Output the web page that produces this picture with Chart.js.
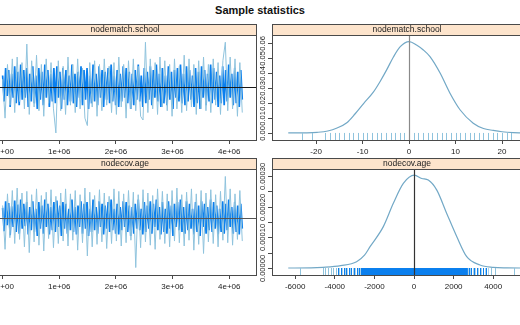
<!DOCTYPE html>
<html>
<head>
<meta charset="utf-8">
<script src="https://cdn.jsdelivr.net/npm/chart.js@4.4.1/dist/chart.umd.min.js"></script>
<style>
  html, body { margin: 0; padding: 0; background: #fff; overflow: hidden; width: 520px; height: 325px; }
  #title { position: absolute; left: 0; top: 4px; width: 520px; text-align: center;
           font: bold 11px "Liberation Sans Narrow", "Liberation Sans", Arial, sans-serif; color: #111; }
  canvas { position: absolute; }
</style>
</head>
<body>
<div id="title">Sample statistics</div>
<canvas id="traceSchool" width="264" height="138" style="left:-7px;top:24px"></canvas>
<canvas id="densSchool" width="286" height="138" style="left:256px;top:24px"></canvas>
<canvas id="traceAge" width="264" height="139" style="left:-7px;top:158px"></canvas>
<canvas id="densAge" width="286" height="139" style="left:256px;top:158px"></canvas>
<script>
// ---- data ----
const statNames = ['nodematch.school', 'nodecov.age'];
const traceEnd = 4.23e6;
const traceTicks = [0, 1e6, 2e6, 3e6, 4e6];
const traceTickLabels = ['0e+00', '1e+06', '2e+06', '3e+06', '4e+06'];

// nodematch.school trace: outer spikes + dense band
const schoolTraceOuter = [4, -17, 12, -10, 15, -14, 16, -8, 13, -12,
  23, -15, 14, -11, 17, -13, 12, -16, 15, -9,
  13, -12, -25, 14, -13, 11, -15, 16, -10, 12,
  -14, 15, -12, 10, -17, -21, 13, -11, 14, -16,
  12, -13, 15, -10, 11, -14, 13, -15, 16, -11,
  12, -17, 14, -12, 15, -13, 11, -16, -18, 24,
  -14, 15, -12, 13, -15, 16, -11, 14, -13, 12,
  -16, 15, -12, 11, -14, 17, -13, 15, -11, 12,
  -15, 14, -12, 16, -13, 12, -14, 15, -10, 13,
  -15, 14, 24, -13, 16, -12, 15, -16, 13, -14];
const schoolTraceInner = [6, -8, 10, -5, 9, -11, 7, -6, 11, -9,
  8, -10, 12, -7, 9, -6, 10, -11, 7, -8,
  11, -9, 6, -12, 10, -7, 8, -10, 12, -6,
  9, -11, 7, -8, 10, -9, 11, -6, 8, -12,
  10, -7, 9, -10, 6, -8, 12, -9, 7, -11,
  8, -6, 11, -10, 9, -7, 10, -12, 6, -9,
  12, -8, 7, -10, 11, -6, 9, -11, 8, -7,
  10, -9, 12, -8, 6, -10, 9, -11, 7, -8,
  11, -6, 10, -9, 8, -12, 7, -10, 9, -7,
  12, -8, 6, -11, 10, -9, 8, -7, 11, -10,
  9, -6, 12, -8, 7, -11, 10, -9, 6, -10,
  11, -7, 8, -12, 9, -6, 10, -8, 12, -9,
  7, -10, 11, -8, 9, -7, 6, -11, 10, -9,
  8, -12, 11, -6, 9, -10, 7, -8, 12, -9,
  10, -7, 8, -11, 6, -9, 11, -10, 9, -8,
  12, -6, 7, -10, 10, -9, 8, -11, 9, -7];

// nodecov.age trace
const ageTraceOuter = [1500, -3800, 2900, -2400, 3300, -3100, 3600, -2600, 3000, -3500,
  3200, -4200, 2800, -2900, 3500, -3300, 2700, -4000, 3100, -2500,
  3400, -3600, 2600, -3100, 3000, -2800, 3500, -3400, 2900, -2700,
  3300, -3900, 2800, -3000, 3600, -4600, 3100, -3500, 2700, -3200,
  3400, -2900, 3000, -3700, 2600, -3100, 3500, -2800, 3200, -3400,
  2900, -3000, 3300, -2700, 3100, -6000, 2800, -3600, 3400, -2900,
  3000, -3300, 2700, -3800, 3500, -2600, 3200, -3100, 2900, -3500,
  3300, -2800, 3600, -3000, 2800, -3400, 3100, -2700, 3500, -3900,
  2900, -3200, 3300, -4300, 3000, -2900, 3400, -3100, 2800, -3500,
  3200, -2700, 5000, -3000, 3500, -3300, 2900, -2600, 3300, -2800];
const ageTraceInner = [1200, -1600, 2000, -900, 1800, -2100, 1400, -1100, 2100, -1700,
  1600, -1900, 2200, -1300, 1700, -1000, 1900, -2000, 1300, -1500,
  2000, -1700, 1100, -2200, 1900, -1300, 1500, -1900, 2200, -1100,
  1700, -2000, 1300, -1500, 1900, -1700, 2100, -1100, 1500, -2200,
  1900, -1300, 1700, -1900, 1100, -1500, 2200, -1700, 1300, -2000,
  1500, -1100, 2000, -1900, 1700, -1300, 1900, -2200, 1100, -1700,
  2200, -1500, 1300, -1900, 2000, -1100, 1700, -2000, 1500, -1300,
  1900, -1700, 2200, -1500, 1100, -1900, 1700, -2000, 1300, -1500,
  2000, -1100, 1900, -1700, 1500, -2200, 1300, -1900, 1700, -1300,
  2200, -1500, 1100, -2000, 1900, -1700, 1500, -1300, 2000, -1900,
  1700, -1100, 2200, -1500, 1300, -2000, 1900, -1700, 1100, -1900,
  2000, -1300, 1500, -2200, 1700, -1100, 1900, -1500, 2200, -1700,
  1300, -1900, 2000, -1500, 1700, -1300, 1100, -2000, 1900, -1700,
  1500, -2200, 2000, -1100, 1700, -1900, 1300, -1500, 2200, -1700,
  1900, -1300, 1500, -2000, 1100, -1700, 2000, -1900, 1700, -1500,
  2200, -1100, 1300, -1900, 1900, -1700, 1500, -2000, 1700, -1300];

// densities
const schoolDensX = [-26, -22, -19.8, -17.5, -15.5, -13.4, -11.6, -9.8, -7.7, -6.2, -4.8, -3.4, -1.9, 0,
  1.6, 3, 4.5, 6.7, 8.8, 11, 13.8, 16, 18.1, 20, 22.4, 25, 28.6];
const schoolDensY = [0, 0.0001, 0.0004, 0.0013, 0.0033, 0.0068, 0.0128, 0.0196, 0.0272, 0.0345, 0.0422, 0.0505, 0.0575, 0.0609,
  0.0587, 0.0555, 0.0509, 0.0398, 0.0265, 0.0153, 0.0065, 0.003, 0.0017, 0.0008, 0.0002, 0, 0];
const schoolRug = [-23, -21, -18, -17, -16, -15, -14, -13, -12, -11, -10, -9, -8, -7, -6, -5, -4, -3, -2, -1,
  1, 2, 3, 4, 5, 6, 7, 8, 9, 10, 11, 12, 13, 14, 15, 16, 17, 18, 19, 20, 21, 22];
const schoolTicks = [-20, -10, 0, 10, 20];
const schoolYTicks = [0, 0.01, 0.02, 0.03, 0.04, 0.05, 0.06];
const schoolYLabels = ['0.00', '0.01', '0.02', '0.03', '0.04', '0.05', '0.06'];

const ageDensX = [-6350, -5200, -4600, -3700, -2900, -2500, -2220, -1550, -1045, -540, 15, 390, 720,
  1150, 1650, 2160, 2660, 3330, 4000, 4700, 5350, 6460];
const ageDensY = [0, 0.0000005, 0.0000023, 0.000008, 0.0000207, 0.000042, 0.0000696, 0.000135, 0.000211, 0.000276, 0.000303, 0.000292, 0.000287,
  0.000254, 0.000178, 0.000102, 0.0000368, 0.0000098, 0.0000023, 0.0000005, 0, 0];
const ageRugSparse = [-5750, -4580, -4470, -4330, -4210, -4080, -3960, 3900, 4100, 5050];
const ageRugStripes = [-3850, -3780, -3700, -3640, -3560, -3500, -3430, -3360, -3300, -3240, -3170, -3100,
  -3040, -2970, -2900, -2840, -2780, -2720, -2660, 2700, 2760, 2830, 2890, 2960, 3030, 3100, 3170, 3250,
  3320, 3400, 3480, 3560, 3650, 3750];
const ageRugBand = [-2650, 2720];
const ageTicks = [-6000, -4000, -2000, 0, 2000, 4000];
const ageYTicks = [0, 0.00005, 0.0001, 0.00015, 0.0002, 0.00025, 0.0003];
const ageYLabels = ['0.00000', '', '0.00010', '', '0.00020', '', '0.00030'];

// ---- styling ----
const FONT = '"Liberation Sans Narrow", "Liberation Sans", Arial, sans-serif';
const darkBlue = '#0a7fee';
const lightBlue = '#8fc3dd';
const densColor = '#72a8c6';
const frameColor = '#4a4a4a';

const toXY = (xs, ys) => xs.map((x, i) => ({ x, y: ys[i] }));
const traceXY = (vals) => vals.map((v, i) => ({ x: i * traceEnd / (vals.length - 1), y: v }));

const panelDeco = {
  id: 'panelDeco',
  afterDatasetsDraw(chart, args, opts) {
    const { ctx, chartArea: a, scales } = chart;
    ctx.save();
    // rug
    const y0 = scales.y.getPixelForValue(0);
    if (opts.band) {
      const x1 = scales.x.getPixelForValue(opts.band[0]);
      const x2 = scales.x.getPixelForValue(opts.band[1]);
      ctx.fillStyle = darkBlue;
      ctx.fillRect(x1, y0, x2 - x1, a.bottom - y0);
    }
    (opts.rugs || []).forEach(r => {
      ctx.strokeStyle = r.color;
      ctx.lineWidth = 1;
      r.values.forEach((v, i) => {
        const x = Math.round(scales.x.getPixelForValue(v)) + 0.5;
        if (r.alt) ctx.strokeStyle = i % 2 ? r.alt : r.color;
        ctx.beginPath();
        ctx.moveTo(x, y0);
        ctx.lineTo(x, a.bottom);
        ctx.stroke();
      });
    });
    // reference lines
    if (opts.hLine) {
      const y = Math.round(scales.y.getPixelForValue(opts.hLine.value)) + 0.5;
      ctx.strokeStyle = opts.hLine.color;
      ctx.lineWidth = 1.2;
      ctx.beginPath(); ctx.moveTo(a.left, y); ctx.lineTo(a.right, y); ctx.stroke();
    }
    if (opts.vLine) {
      const x = Math.round(scales.x.getPixelForValue(opts.vLine.value)) + 0.5;
      ctx.strokeStyle = opts.vLine.color;
      ctx.lineWidth = 1.2;
      ctx.beginPath(); ctx.moveTo(x, a.top); ctx.lineTo(x, a.bottom); ctx.stroke();
    }
    ctx.restore();
  },
  afterDraw(chart, args, opts) {
    const { ctx, chartArea: a, scales } = chart;
    ctx.save();
    // frame
    ctx.strokeStyle = frameColor;
    ctx.lineWidth = 1;
    ctx.strokeRect(a.left + 0.5, a.top + 0.5, a.right - a.left - 1, a.bottom - a.top);
    // strip
    ctx.fillStyle = '#fde4cc';
    ctx.fillRect(a.left, 0, a.right - a.left, a.top);
    ctx.strokeRect(a.left + 0.5, 0.5, a.right - a.left - 1, a.top);
    ctx.fillStyle = '#222';
    ctx.font = '8.5px ' + FONT;
    ctx.textAlign = 'center';
    ctx.textBaseline = 'middle';
    ctx.fillText(opts.strip, (a.left + a.right) / 2, a.top / 2 + 0.5);
    // rotated y ticks (density panels)
    if (opts.yTicks) {
      ctx.font = '7.5px ' + FONT;
      ctx.fillStyle = '#222';
      opts.yTicks.forEach((v, i) => {
        const y = Math.round(scales.y.getPixelForValue(v)) + 0.5;
        ctx.beginPath(); ctx.moveTo(a.left - 4, y); ctx.lineTo(a.left, y); ctx.stroke();
        const lab = opts.yLabels[i];
        if (lab) {
          ctx.save();
          ctx.translate(a.left - 9, y);
          ctx.rotate(-Math.PI / 2);
          ctx.textAlign = 'center';
          ctx.textBaseline = 'middle';
          ctx.fillText(lab, 0, 0);
          ctx.restore();
        }
      });
    }
    ctx.restore();
  }
};
Chart.register(panelDeco);

const xAxis = (min, max, ticks, labels) => ({
  type: 'linear', min, max,
  grid: { drawOnChartArea: false, drawTicks: true, tickLength: 4, color: frameColor },
  border: { display: false },
  ticks: {
    font: { size: 8, family: FONT }, color: '#222', padding: 3, maxRotation: 0, autoSkip: false,
    callback: (v, i) => labels[i]
  },
  afterBuildTicks: s => { s.ticks = ticks.map(value => ({ value })); },
  afterFit: s => { s.height = 22; s.paddingLeft = 0; s.paddingRight = 0; }
});

const makePanel = (id, datasets, x, y, deco, padLeft) => new Chart(document.getElementById(id), {
  type: 'line',
  data: { datasets },
  options: {
    responsive: false, animation: false, events: [],
    layout: { padding: { top: 11, left: padLeft, right: 0, bottom: 0 } },
    elements: { point: { radius: 0 }, line: { tension: 0 } },
    plugins: { legend: { display: false }, tooltip: { enabled: false }, panelDeco: deco },
    scales: { x, y: Object.assign({ type: 'linear', display: false }, y) }
  }
});

const traceSets = (outer, inner) => [
  { data: traceXY(outer), borderColor: lightBlue, borderWidth: 1 },
  { data: traceXY(inner), borderColor: darkBlue, borderWidth: 1.7 }
];

makePanel('traceSchool', traceSets(schoolTraceOuter, schoolTraceInner),
  xAxis(-0.17e6, 4.49e6, traceTicks, traceTickLabels), { min: -28.8, max: 27.9 },
  { strip: statNames[0], hLine: { value: 0, color: '#1a1a1a' } }, 0);

makePanel('traceAge', traceSets(ageTraceOuter, ageTraceInner),
  xAxis(-0.17e6, 4.49e6, traceTicks, traceTickLabels), { min: -6900, max: 5900 },
  { strip: statNames[1], hLine: { value: 0, color: '#555' } }, 0);

makePanel('densSchool',
  [{ data: toXY(schoolDensX, schoolDensY), borderColor: densColor, borderWidth: 1.2, cubicInterpolationMode: 'monotone' }],
  xAxis(-29.5, 28.6, schoolTicks, schoolTicks.map(String)), { min: -0.0047, max: 0.0653 },
  { strip: statNames[0], vLine: { value: 0, color: '#8a8a8a' },
    rugs: [{ values: schoolRug, color: lightBlue }],
    yTicks: schoolYTicks, yLabels: schoolYLabels }, 16);

makePanel('densAge',
  [{ data: toXY(ageDensX, ageDensY), borderColor: densColor, borderWidth: 1.2, cubicInterpolationMode: 'monotone' }],
  xAxis(-7170, 6460, ageTicks, ageTicks.map(String)), { min: -0.0000228, max: 0.000323 },
  { strip: statNames[1], vLine: { value: 0, color: '#333' }, band: ageRugBand,
    rugs: [{ values: ageRugSparse, color: lightBlue }, { values: ageRugStripes, color: darkBlue, alt: '#a9d2ea' }],
    yTicks: ageYTicks, yLabels: ageYLabels }, 16);
</script>
</body>
</html>
